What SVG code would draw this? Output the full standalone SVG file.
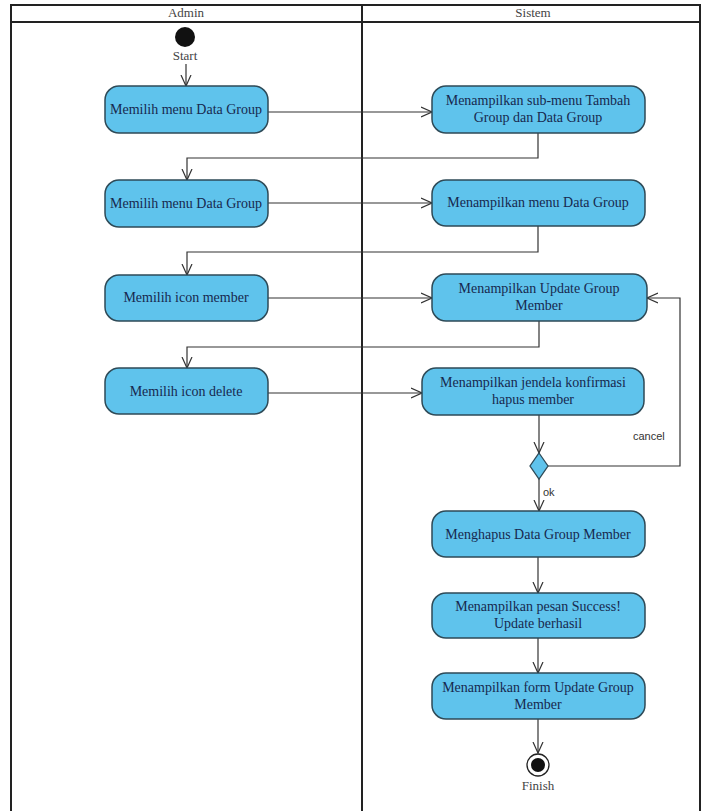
<svg xmlns="http://www.w3.org/2000/svg" width="703" height="811" viewBox="0 0 703 811">
<style>
.act{fill:#5FC3EC;stroke:#2E4A57;stroke-width:1.5}
.lbl{font-family:"Liberation Serif","Times New Roman",serif;font-size:14px;fill:#17294F;text-anchor:middle}
.hdr{font-family:"Liberation Serif","Times New Roman",serif;font-size:13px;fill:#444;text-anchor:middle}
.ln{fill:none;stroke:#333;stroke-width:1.2}
.frame{fill:none;stroke:#222;stroke-width:2}
.small{font-family:"Liberation Sans",Arial,sans-serif;font-size:11px;fill:#333}
</style>
<defs>
<marker id="arr" viewBox="0 0 12 12" refX="11" refY="6" markerWidth="12" markerHeight="12" markerUnits="userSpaceOnUse" orient="auto">
<path d="M0,1 L11,6 L0,11" fill="none" stroke="#333" stroke-width="1.2"/>
</marker>
</defs>
<rect width="703" height="811" fill="#FFFFFF"/>
<g id="swimlanes">
<rect class="frame" x="11" y="5" width="689" height="810"/>
<line class="frame" x1="11" y1="22" x2="700" y2="22" stroke-width="2.5"/>
<line class="frame" x1="362" y1="5" x2="362" y2="811"/>
<text class="hdr" x="186" y="17">Admin</text>
<text class="hdr" x="533" y="17">Sistem</text>
</g>
<g id="connectors">
<line class="ln" x1="186" y1="64" x2="186" y2="86" marker-end="url(#arr)"/>
<line class="ln" x1="268" y1="112" x2="432" y2="112" marker-end="url(#arr)"/>
<polyline class="ln" points="538,133 538,158 187,158 187,180" marker-end="url(#arr)"/>
<line class="ln" x1="268" y1="203" x2="432" y2="203" marker-end="url(#arr)"/>
<polyline class="ln" points="538,226 538,252 187,252 187,275" marker-end="url(#arr)"/>
<line class="ln" x1="268" y1="298" x2="432" y2="298" marker-end="url(#arr)"/>
<polyline class="ln" points="539,321 539,347 187,347 187,368" marker-end="url(#arr)"/>
<line class="ln" x1="268" y1="393" x2="422" y2="393" marker-end="url(#arr)"/>
<line class="ln" x1="539" y1="415" x2="539" y2="453" marker-end="url(#arr)"/>
<polyline class="ln" points="548,466 680,466 680,298 647,298" marker-end="url(#arr)"/>
<text class="small" x="633" y="440">cancel</text>
<line class="ln" x1="539" y1="479" x2="539" y2="511" marker-end="url(#arr)"/>
<text class="small" x="543" y="496">ok</text>
<line class="ln" x1="538" y1="557" x2="538" y2="593" marker-end="url(#arr)"/>
<line class="ln" x1="538" y1="638" x2="538" y2="673" marker-end="url(#arr)"/>
<line class="ln" x1="538" y1="719" x2="538" y2="753" marker-end="url(#arr)"/>
</g>
<g id="start">
<circle cx="185" cy="37" r="10" fill="#111"/>
<text class="hdr" x="185" y="60" fill="#222">Start</text>
</g>
<g id="a1"><rect class="act" x="105" y="86" width="163" height="47" rx="14"/><text class="lbl" x="186" y="114">Memilih menu Data Group</text></g>
<g id="a2"><rect class="act" x="105" y="180" width="163" height="47" rx="14"/><text class="lbl" x="186" y="208">Memilih menu Data Group</text></g>
<g id="a3"><rect class="act" x="105" y="275" width="163" height="46" rx="14"/><text class="lbl" x="186" y="302">Memilih icon member</text></g>
<g id="a4"><rect class="act" x="105" y="368" width="163" height="46" rx="14"/><text class="lbl" x="186" y="396">Memilih icon delete</text></g>
<g id="s1"><rect class="act" x="432" y="86" width="213" height="47" rx="14"/><text class="lbl" x="538" y="105">Menampilkan sub-menu Tambah</text><text class="lbl" x="538" y="122">Group dan Data Group</text></g>
<g id="s2"><rect class="act" x="432" y="180" width="213" height="46" rx="14"/><text class="lbl" x="538" y="207">Menampilkan menu Data Group</text></g>
<g id="s3"><rect class="act" x="432" y="274" width="215" height="47" rx="14"/><text class="lbl" x="539" y="293">Menampilkan Update Group</text><text class="lbl" x="539" y="310">Member</text></g>
<g id="s4"><rect class="act" x="422" y="368" width="222" height="47" rx="14"/><text class="lbl" x="533" y="387">Menampilkan jendela konfirmasi</text><text class="lbl" x="533" y="404">hapus member</text></g>
<g id="decision"><polygon points="539,453 548,466 539,479 530,466" fill="#5FC3EC" stroke="#2E4A57" stroke-width="1.3"/></g>
<g id="s5"><rect class="act" x="432" y="511" width="213" height="46" rx="14"/><text class="lbl" x="538" y="539">Menghapus Data Group Member</text></g>
<g id="s6"><rect class="act" x="432" y="593" width="213" height="45" rx="14"/><text class="lbl" x="538" y="611">Menampilkan pesan Success!</text><text class="lbl" x="538" y="628">Update berhasil</text></g>
<g id="s7"><rect class="act" x="432" y="673" width="213" height="46" rx="14"/><text class="lbl" x="538" y="692">Menampilkan form Update Group</text><text class="lbl" x="538" y="709">Member</text></g>
<g id="finish">
<circle cx="538" cy="765" r="11" fill="#fff" stroke="#222" stroke-width="1.3"/>
<circle cx="538" cy="765" r="7" fill="#111"/>
<text class="hdr" x="538" y="790" fill="#222">Finish</text>
</g>
</svg>
